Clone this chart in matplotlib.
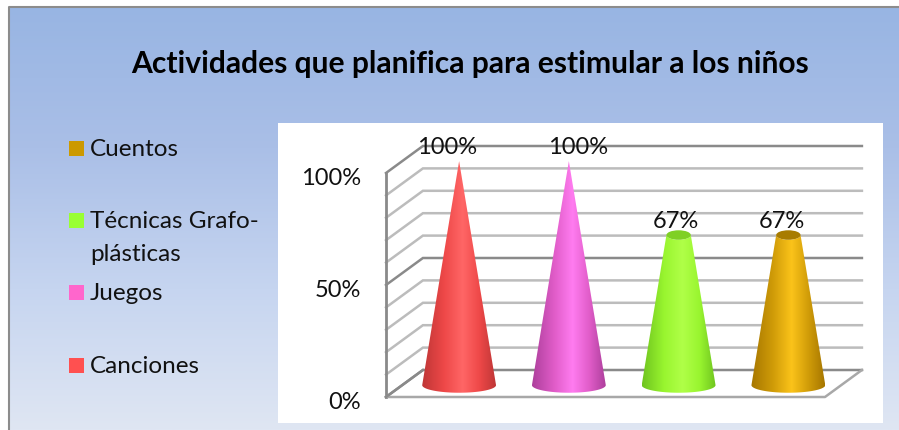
import matplotlib
matplotlib.use("Agg")
import matplotlib.pyplot as plt
import numpy as np
from matplotlib.colors import LinearSegmentedColormap
from matplotlib.patches import Polygon, Rectangle, Ellipse
from matplotlib.transforms import ScaledTranslation

plt.rcParams['font.family'] = ['Lato', 'DejaVu Sans']

# == datos ==
categorias = ["Canciones", "Juegos", "Técnicas Grafo-\nplásticas", "Cuentos"]
valores = [100, 100, 67, 67]
colores = ["#ff5050", "#ff66cc", "#99ff33", "#cc9900"]
sombra = ["#bf3636", "#ad3f9c", "#6fc41f", "#a67600"]
medio = ["#ee4848", "#e05cc8", "#99f52f", "#d09c08"]
brillo = ["#ff6666", "#ff7cf0", "#b0ff48", "#fbc31a"]
tapa = ["#e04545", "#e058c0", "#7fd024", "#a87c00"]
etiquetas_y = [0, 50, 100]
titulo = "Actividades que planifica para estimular a los niños"

W, H = 899, 430

fig = plt.figure(figsize=(W / 100, H / 100), dpi=100, facecolor="white")

# == fondo (en pixeles) ==
bg = fig.add_axes([0, 0, 1, 1])
bg.set_xlim(0, W)
bg.set_ylim(H, 0)
bg.axis("off")
grad = LinearSegmentedColormap.from_list("fondo", ["#98b5e3", "#aabfe7", "#c6d5f0", "#dfe6f3"])
bg.imshow(np.linspace(0, 1, 256).reshape(-1, 1), cmap=grad, extent=(9, W, H, 7), aspect="auto", zorder=0)
bg.set_xlim(0, W)
bg.set_ylim(H, 0)
bg.plot([9, 9, W], [H, 7, 7], color="#8c8c8c", lw=1.5, zorder=1)
bg.add_patch(Rectangle((278, 123), 605, 300, fc="white", ec="none", zorder=1))
bg.text(470.5, 64, titulo, ha="center", va="center", fontsize=21.6, fontweight="bold", color="black")

# leyenda
ley_y = [148.5, 220.5, 292.5, 365.5]
for nombre, color, y in zip(categorias[::-1], colores[::-1], ley_y):
    bg.add_patch(Rectangle((69, y - 7.5), 15, 15, fc=color, ec="none", zorder=2))
    lineas = nombre.split("\n")
    for k, linea in enumerate(lineas):
        bg.text(90, y + 1 + k * 33, linea, ha="left", va="center", fontsize=17.5, color="#111111")

# == grafico: ejes sobre el plano frontal ==
ax = fig.add_axes([386 / W, 1 - 397 / H, 439 / W, 224 / H])
ax.patch.set_alpha(0)
xlim = (-0.5, 3.5)
ylim = (0, 100)
for s in ax.spines.values():
    s.set_visible(False)
ax.set_xticks([])
ax.set_yticks(etiquetas_y)
ax.set_yticklabels([f"{v}%" for v in etiquetas_y], fontsize=17, color="#111111")
ax.tick_params(axis="y", length=0, pad=18)
# las etiquetas van un poco mas abajo que la linea
bajar = ScaledTranslation(0, -2.2 / 72, fig.dpi_scale_trans)
for lbl in ax.get_yticklabels():
    lbl.set_transform(lbl.get_transform() + bajar)

# profundidad del 3D en unidades de datos
dx = 37 / 110
dy = 27 / 224 * 100

for g in range(0, 101, 10):
    col = "#8a8a8a" if g in etiquetas_y else "#bcbcbc"
    ax.plot([-0.5, -0.5 + dx, 3.5 + dx], [g, g + dy, g + dy], color=col, lw=1.8, clip_on=False, zorder=1, solid_joinstyle="miter")
ax.plot([-0.5, -0.5], [0, 100], color="#8a8a8a", lw=2, clip_on=False, zorder=1)
ax.plot([-0.5, 3.5, 3.5 + dx], [0, 0, dy], color="#a8a8a8", lw=1.8, clip_on=False, zorder=1)
ax.plot([-0.5, -0.5 + dx], [0, dy], color="#8a8a8a", lw=1.8, clip_on=False, zorder=1)

# == conos ==
ancho = 37 / 110
bajo = 3.4
prof = dy * 0.44
t = np.linspace(np.pi, 2 * np.pi, 60)
desp_etq = [-12, 9, -3, -6]

for i, v in enumerate(valores):
    cx = i + prof / dy * dx + 2 / 110
    y0 = prof
    y1 = prof + v
    f = 1 - v / 100
    r1 = ancho * f
    b1 = bajo * f + (1.0 if f > 0 else 0)
    xs = np.r_[cx + ancho * np.cos(t), cx + r1 * np.cos(t[::-1])]
    ys = np.r_[y0 + bajo * np.sin(t), y1 + b1 * np.sin(t[::-1])]
    cono = Polygon(np.c_[xs, ys], closed=True, fc="none", ec="none", transform=ax.transData)
    ax.add_patch(cono)
    cm = LinearSegmentedColormap.from_list(
        f"c{i}",
        [(0, sombra[i]), (0.3, medio[i]), (0.55, brillo[i]), (0.78, medio[i]), (1, sombra[i])],
    )
    im = ax.imshow(
        np.linspace(0, 1, 256).reshape(1, -1), cmap=cm, aspect="auto",
        extent=(cx - ancho, cx + ancho, y0 - bajo, y1 + b1), zorder=3,
    )
    im.set_clip_path(cono)
    im.set_clip_box(fig.bbox)
    if f > 0:
        ax.add_patch(Ellipse((cx, y1), 2 * r1, 2 * b1, fc=tapa[i], ec="none", zorder=4, clip_on=False))
    ax.annotate(
        f"{v}%", (cx, y1), xytext=(desp_etq[i], 14), textcoords="offset pixels",
        ha="center", va="center", fontsize=17, color="#111111", zorder=5, annotation_clip=False,
    )

ax.set_xlim(*xlim)
ax.set_ylim(*ylim)

fig.savefig("out.png", dpi=100)
